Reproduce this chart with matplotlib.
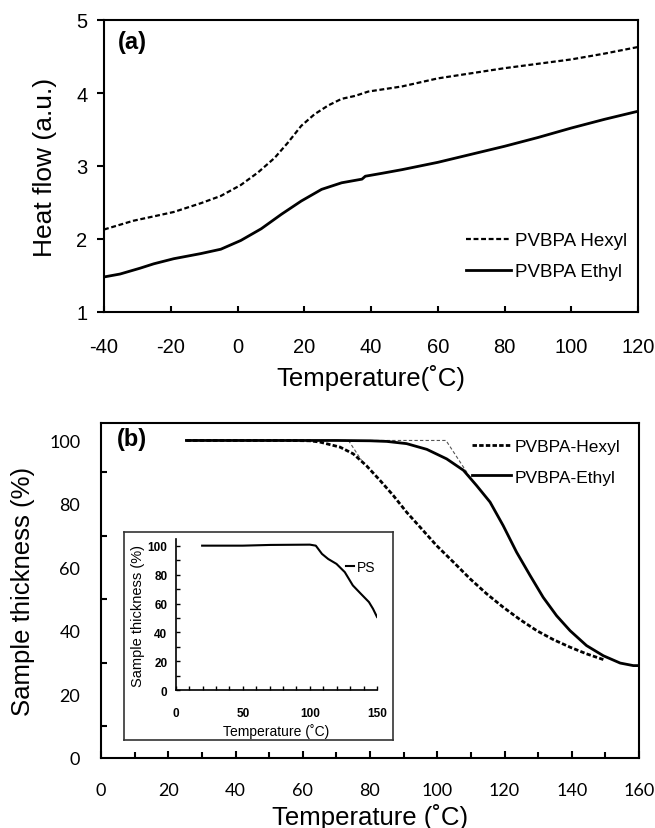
import matplotlib
matplotlib.use("Agg")
import matplotlib.pyplot as plt
from matplotlib.ticker import MultipleLocator, FixedLocator

plt.rcParams['font.family'] = ['Liberation Sans', 'DejaVu Sans']
plt.rcParams['axes.unicode_minus'] = False

# ---------------- Data: panel (a) DSC ----------------
dsc_hexyl_T = [-40, -31.2, -25.1, -19.1, -11.0, -5.0, 1.0, 6.1, 11.1, 15.1, 19.1, 23.1, 27.2,
               31.2, 35.2, 39.2, 49.3, 60, 70, 80, 90, 100, 110, 120]
dsc_hexyl_H = [2.13, 2.25, 2.31, 2.37, 2.49, 2.59, 2.74, 2.91, 3.11, 3.32, 3.55, 3.71, 3.83,
               3.92, 3.96, 4.02, 4.09, 4.2, 4.27, 4.34, 4.4, 4.46, 4.54, 4.63]
dsc_ethyl_T = [-40, -35.2, -29.2, -25.1, -19.1, -11.0, -5.0, 1.0, 7.1, 13.2, 19.1, 25.2, 31.2,
               37.3, 38.3, 43.3, 49.3, 60, 70, 80, 90, 100, 110, 120]
dsc_ethyl_H = [1.48, 1.52, 1.60, 1.66, 1.73, 1.80, 1.86, 1.98, 2.14, 2.34, 2.52, 2.68, 2.77,
               2.82, 2.86, 2.90, 2.95, 3.05, 3.16, 3.27, 3.39, 3.52, 3.64, 3.75]

# ---------------- Data: panel (b) thickness ----------------
th_hexyl_T = [25.4, 40, 55, 62, 65.1, 71.1, 75.0, 78.9, 83.0, 86.9, 90.9, 94.9, 99.8, 104.8,
              109.8, 114.7, 119.6, 124.6, 129.6, 134.5, 139.5, 144.4, 149.4]
th_hexyl_P = [100, 100, 100, 99.9, 99.5, 97.9, 95.8, 92.1, 87.4, 82.7, 77.4, 72.7, 66.9, 61.7,
              56.4, 51.7, 47.5, 43.6, 40.1, 37.3, 34.9, 32.8, 31.0]
th_ethyl_T = [25.4, 50, 70, 80, 85.0, 90.9, 96.9, 102.8, 107.8, 111.7, 115.7, 119.6, 123.6,
              127.6, 131.5, 135.5, 139.5, 144.4, 149.4, 154.4, 158.3, 160]
th_ethyl_P = [100, 100, 100, 99.9, 99.7, 99.0, 97.2, 94.2, 90.6, 85.8, 80.6, 73.2, 64.8,
              57.5, 50.6, 44.8, 40.1, 35.4, 32.2, 29.9, 29.1, 29.1]
tan_hexyl_T = [62, 73.6, 77.5]
tan_hexyl_P = [100, 100, 93.7]
tan_ethyl_T = [80, 102.6, 110.7]
tan_ethyl_P = [100, 100, 86.9]

# ---------------- Data: inset PS ----------------
ps_T = [19.7, 50, 70.5, 100, 104.4, 109, 113.6, 119.8, 126, 132, 138, 144, 147, 150]
ps_P = [100, 100, 100.5, 100.7, 100, 94.3, 90.8, 87.4, 81.7, 72.5, 66.7, 61, 56.4, 50.7]

W, H = 655, 829
fig = plt.figure(figsize=(W / 100, H / 100), dpi=100)

def fx(px):
    return px / W

def fy(py):
    return 1 - py / H

# ---------------- Panel (a) ----------------
ax1 = fig.add_axes([fx(104), fy(313), fx(638) - fx(104), fy(21) - fy(313)])
ax1.plot(dsc_hexyl_T, dsc_hexyl_H, color='black', lw=1.6, ls=(0, (2.2, 1.2)), label='PVBPA Hexyl')
ax1.plot(dsc_ethyl_T, dsc_ethyl_H, color='black', lw=2.0, ls='-', label='PVBPA Ethyl')
ax1.set_xlim(-40, 120)
ax1.set_ylim(1, 5)
ax1.xaxis.set_major_locator(MultipleLocator(20))
ax1.yaxis.set_major_locator(MultipleLocator(1))
ax1.tick_params(axis='x', direction='in', length=4.5, width=1.5, pad=18, labelsize=14.5)
ax1.tick_params(axis='y', direction='out', length=5, width=1.5, pad=7, labelsize=14.5)
for s in ax1.spines.values():
    s.set_linewidth(1.5)
ax1.set_xlabel('Temperature(˚C)', fontsize=18.5, labelpad=6)
ax1.set_ylabel('Heat flow (a.u.)', fontsize=19, labelpad=14)
ax1.text(0.026, 0.925, '(a)', transform=ax1.transAxes, fontsize=17, fontweight='bold',
         va='center', ha='left')
ax1.legend(loc='lower right', bbox_to_anchor=(1.0, 0.07), frameon=False, fontsize=13.5,
           handlelength=2.4, handletextpad=0.2, labelspacing=0.75, borderaxespad=0.2)

# ---------------- Panel (b) ----------------
ax2 = fig.add_axes([fx(101), fy(759), fx(639) - fx(101), fy(424) - fy(759)])
ax2.plot(tan_hexyl_T, tan_hexyl_P, color='#555555', lw=0.8, ls=(0, (3, 2)))
ax2.plot(tan_ethyl_T, tan_ethyl_P, color='#555555', lw=0.8, ls=(0, (3, 2)))
ax2.plot(th_hexyl_T, th_hexyl_P, color='black', lw=2.0, ls=(0, (1.6, 0.8)), label='PVBPA-Hexyl')
ax2.plot(th_ethyl_T, th_ethyl_P, color='black', lw=2.0, ls='-', label='PVBPA-Ethyl')
ax2.set_xlim(0, 160)
ax2.set_ylim(0, 105.5)
ax2.xaxis.set_major_locator(MultipleLocator(20))
ax2.xaxis.set_minor_locator(MultipleLocator(10))
ax2.yaxis.set_major_locator(MultipleLocator(20))
ax2.yaxis.set_minor_locator(FixedLocator([10, 30, 50, 70, 90]))
ax2.tick_params(axis='x', which='major', direction='in', length=5, width=1.5, pad=17)
ax2.tick_params(axis='x', which='minor', direction='in', length=4, width=1.5)
ax2.tick_params(axis='y', which='major', direction='in', length=0, pad=15)
ax2.tick_params(axis='y', which='minor', direction='in', length=4.5, width=1.5)
for lab in ax2.get_xticklabels() + ax2.get_yticklabels():
    lab.set_fontfamily(['Lato', 'DejaVu Sans'])
    lab.set_fontsize(13)
for s in ax2.spines.values():
    s.set_linewidth(1.5)
ax2.set_xlabel('Temperature (˚C)', fontsize=18.5, labelpad=4)
ax2.set_ylabel('Sample thickness (%)', fontsize=18.5, labelpad=10)
ax2.text(0.03, 0.955, '(b)', transform=ax2.transAxes, fontsize=17, fontweight='bold',
         va='center', ha='left')
ax2.legend(loc='upper right', bbox_to_anchor=(0.995, 1.0), frameon=False, fontsize=12.5,
           handlelength=2.2, handletextpad=0.25, labelspacing=0.9, borderaxespad=0.5)

# ---------------- Inset ----------------
frame = fig.add_axes([fx(124), fy(741), fx(392.5) - fx(124), fy(533) - fy(741)])
frame.set_xticks([])
frame.set_yticks([])
frame.set_facecolor('white')
for s in frame.spines.values():
    s.set_linewidth(1.2)
    s.set_color('#333333')

ax3 = fig.add_axes([fx(175.7), fy(691.3), fx(377) - fx(175.7), fy(540) - fy(691.3)])
ax3.set_facecolor('none')
ax3.plot(ps_T, ps_P, color='black', lw=1.5, label='PS')
ax3.set_xlim(0, 150)
ax3.set_ylim(0, 104.6)
ax3.spines['top'].set_visible(False)
ax3.spines['right'].set_visible(False)
for s in ('left', 'bottom'):
    ax3.spines[s].set_linewidth(1.2)
ax3.xaxis.set_major_locator(MultipleLocator(50))
ax3.xaxis.set_minor_locator(MultipleLocator(10))
ax3.yaxis.set_major_locator(MultipleLocator(20))
ax3.yaxis.set_minor_locator(MultipleLocator(10))
ax3.tick_params(axis='both', which='both', direction='in', length=3, width=1.0)
ax3.tick_params(axis='x', which='major', pad=12)
ax3.tick_params(axis='y', which='major', pad=6)
for lab in ax3.get_xticklabels() + ax3.get_yticklabels():
    lab.set_fontsize(8.5)
    lab.set_fontweight('bold')
ax3.set_xlabel('Temperature (˚C)', fontsize=10, labelpad=3)
ax3.set_ylabel('Sample thickness (%)', fontsize=10.5, labelpad=2)
ax3.legend(loc='upper right', bbox_to_anchor=(1.02, 0.9), frameon=False, fontsize=10,
           handlelength=0.6, handletextpad=0.2, borderaxespad=0.0)

fig.savefig('out.png', dpi=100)
